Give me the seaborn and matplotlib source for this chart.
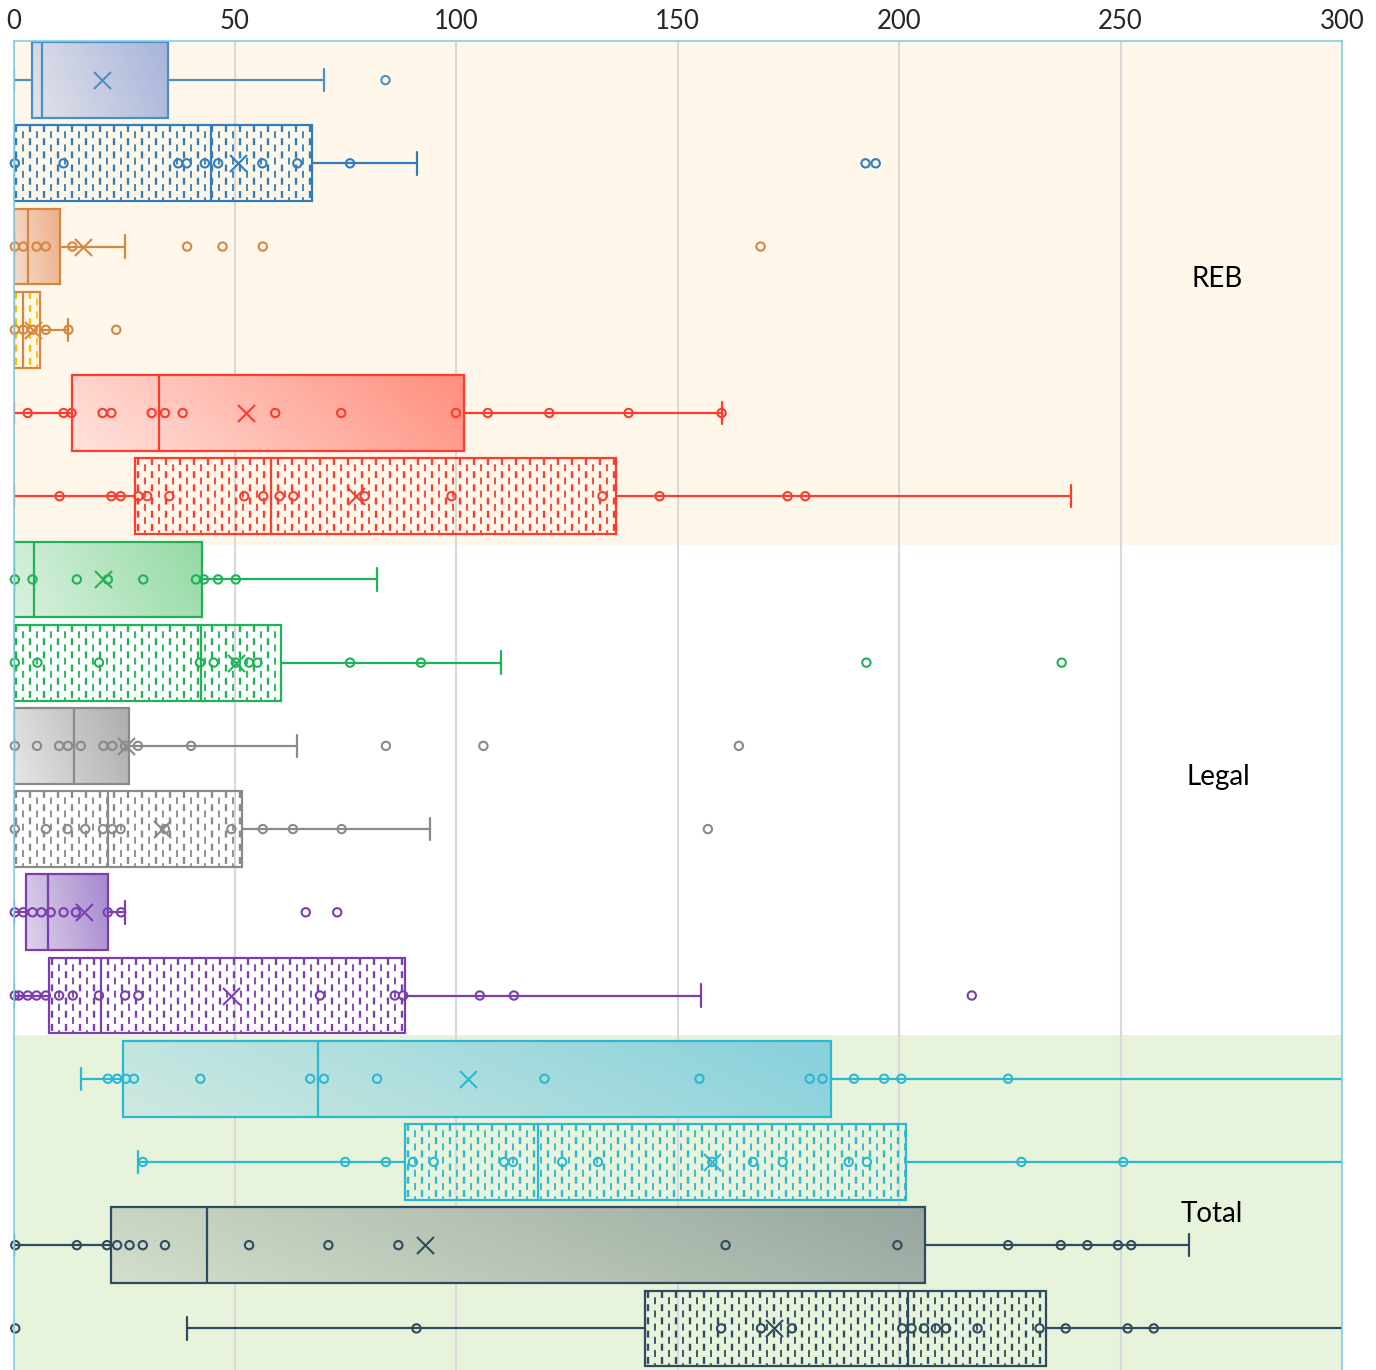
import numpy as np
import matplotlib
matplotlib.use("Agg")
import matplotlib.pyplot as plt
import seaborn as sns
from matplotlib.colors import LinearSegmentedColormap

# ---------------- data ----------------
groups = ["REB", "Legal", "Total"]
rows = ["REB 1a", "REB 1b", "REB 2a", "REB 2b", "REB 3a", "REB 3b",
        "Legal 1a", "Legal 1b", "Legal 2a", "Legal 2b", "Legal 3a", "Legal 3b",
        "Total 1a", "Total 1b", "Total 2a", "Total 2b"]
hatched = [False, True] * 8

q1 = [4.1, 0.0, 0.0, 0.0, 13.3, 27.5, 0.0, 0.0, 0.0, 0.0, 2.9, 8.1, 24.8, 88.5, 22.0, 142.7]
median = [6.4, 44.7, 3.3, 2.2, 32.8, 58.1, 4.7, 42.3, 13.7, 21.4, 7.9, 19.7, 68.7, 118.4, 43.7, 201.9]
q3 = [34.8, 67.3, 10.4, 6.0, 101.8, 136.1, 42.6, 60.5, 26.0, 51.7, 21.4, 88.4, 184.5, 201.6, 205.9, 233.2]
whisker_low = [0.0, 0.0, 0.0, 0.0, 0.0, 0.0, 0.0, 0.0, 0.0, 0.0, 0.0, 0.0, 15.2, 28.2, 0.0, 39.2]
whisker_high = [70.1, 91.2, 25.2, 12.4, 159.9, 238.7, 82.1, 110.0, 64.1, 94.1, 25.2, 155.3, 315.0, 320.0, 265.4, 325.0]
means = [19.9, 50.8, 15.8, 4.5, 52.5, 77.3, 20.3, 50.2, 25.5, 33.5, 15.9, 49.1, 102.6, 157.8, 92.9, 171.8]

points = [
    [84.0],
    [0.3, 11.3, 37.2, 39.1, 43.2, 46.2, 56.2, 64.1, 76.0, 192.4, 194.7],
    [0.3, 2.2, 5.2, 7.3, 13.3, 39.2, 47.2, 56.3, 168.7],
    [0.3, 2.2, 4.3, 7.3, 12.4, 23.2],
    [3.2, 11.3, 13.1, 20.1, 22.1, 31.2, 34.2, 38.2, 59.1, 74.0, 99.9, 107.1, 121.0, 138.9, 159.9],
    [10.4, 22.1, 24.2, 28.2, 30.2, 35.2, 52.1, 56.4, 60.1, 63.2, 79.3, 98.9, 133.0, 145.9, 174.8, 178.8],
    [0.3, 4.3, 14.3, 21.3, 29.3, 41.2, 43.0, 46.2, 50.2],
    [0.3, 5.4, 19.3, 42.1, 45.2, 50.2, 53.2, 55.1, 76.0, 92.0, 192.6, 236.7],
    [0.3, 5.3, 10.3, 12.3, 15.2, 20.3, 22.3, 25.2, 28.1, 40.1, 84.1, 106.1, 163.8],
    [0.3, 7.3, 12.2, 16.2, 20.2, 22.3, 24.2, 34.2, 49.2, 56.3, 63.1, 74.1, 156.8],
    [0.3, 2.2, 4.3, 6.3, 8.4, 11.3, 14.1, 21.3, 24.3, 66.0, 73.1],
    [0.3, 1.2, 3.2, 5.2, 7.3, 10.3, 13.4, 19.3, 25.2, 28.2, 69.2, 86.1, 88.0, 105.3, 113.0, 216.4],
    [21.3, 23.4, 25.4, 27.2, 42.2, 67.0, 70.1, 82.1, 119.9, 154.9, 179.8, 182.7, 189.8, 196.6, 200.5, 224.6],
    [29.2, 74.9, 84.1, 90.2, 94.9, 110.8, 112.8, 123.9, 132.0, 157.8, 167.0, 173.7, 188.6, 192.7, 227.6, 250.6],
    [0.4, 14.3, 21.1, 23.4, 26.2, 29.2, 34.2, 53.2, 71.1, 86.9, 160.8, 199.6, 224.6, 236.5, 242.5, 249.4, 252.4],
    [0.4, 91.0, 159.8, 168.8, 175.8, 200.7, 202.8, 205.6, 208.3, 210.6, 217.7, 231.7, 237.6, 251.6, 257.5],
]

x_ticks = [0, 50, 100, 150, 200, 250, 300]

# ---------------- styles ----------------
edge_colors = ["#4a8fc6", "#2f7dbd", "#d7863f", "#d7863f", "#ff3b30", "#ff3b30",
               "#20b356", "#20b356", "#8a8a8a", "#8a8a8a", "#7a3eb0", "#7a3eb0",
               "#2bb8d0", "#2bb8d0", "#2e4b5f", "#2e4b5f"]
hatch_colors = {1: "#2f7dbd", 3: "#f5c400", 5: "#ff3b30", 7: "#20b356", 9: "#8a8a8a",
                11: "#7a3eb0", 13: "#2bb8d0", 15: "#2e4b5f"}
grad_colors = {0: ("#e2e2e8", "#a7b4db"), 2: ("#f4dccc", "#edae88"), 4: ("#ffe3dc", "#ff8e7e"),
               6: ("#dcf1e0", "#92daa4"), 8: ("#e6e6e6", "#adadad"), 10: ("#ded4ea", "#a687cf"),
               12: ("#cfe9e0", "#86d0dc"), 14: ("#d3dfca", "#97a69f")}
band_colors = {"REB": "#fff8ea", "Legal": "#ffffff", "Total": "#e8f3dc"}

plt.rcParams["lines.scale_dashes"] = False
sns.set_style("white")
plt.rcParams["font.family"] = ["Lato", "DejaVu Sans"]

W, H = 1376, 1370
fig = plt.figure(figsize=(W / 100, H / 100), dpi=100)
ax = fig.add_axes([13.5 / W, 0.0, 1328.5 / W, (H - 41) / H])

bw = 0.91
# background bands
ax.axhspan(-0.6, 5.59, color=band_colors["REB"], zorder=0, lw=0)
ax.axhspan(5.59, 11.48, color=band_colors["Legal"], zorder=0, lw=0)
ax.axhspan(11.48, 16.0, color=band_colors["Total"], zorder=0, lw=0)

stats = []
for i in range(len(rows)):
    stats.append(dict(med=median[i], q1=q1[i], q3=q3[i], whislo=whisker_low[i],
                      whishi=whisker_high[i], mean=means[i], fliers=[], label=rows[i]))
bp = ax.bxp(stats, positions=list(range(len(rows))), widths=bw, capwidths=0.27,
            orientation="horizontal", patch_artist=True, showfliers=False,
            showmeans=False, manage_ticks=False)

for i in range(len(rows)):
    c = edge_colors[i]
    box = bp["boxes"][i]
    box.set_facecolor("none")
    box.set_edgecolor(c)
    box.set_linewidth(1.6)
    box.set_zorder(3)
    for art in (bp["whiskers"][2 * i], bp["whiskers"][2 * i + 1],
                bp["caps"][2 * i], bp["caps"][2 * i + 1]):
        art.set_color(c)
        art.set_linewidth(1.6)
        art.set_zorder(3)
    bp["medians"][i].set_color(c)
    bp["medians"][i].set_linewidth(1.6)
    bp["medians"][i].set_zorder(3)

    top, bot = i - bw / 2, i + bw / 2
    if not hatched[i]:
        c0, c1 = grad_colors[i]
        cmap = LinearSegmentedColormap.from_list(f"g{i}", [c0, c1])
        gx = np.linspace(0, 1, 256)
        gy = np.linspace(0, 1, 64)
        G = 0.82 * gx[None, :] + 0.18 * (1 - gy[:, None])
        im = ax.imshow(G, cmap=cmap, vmin=0, vmax=1, aspect="auto", origin="upper",
                       extent=(q1[i], q3[i], bot, top), zorder=2, interpolation="bilinear")
        im.set_clip_path(box)
    else:
        hc = hatch_colors[i]
        xs = np.arange(q1[i] + 0.6, q3[i], 1.58)
        for k, off, lw in ((0, 0.0, 1.7), (1, 5.0, 1.3)):
            sel = xs[k::2]
            if len(sel) == 0:
                continue
            lc = ax.vlines(sel, top, bot, colors=hc, linewidth=lw,
                           linestyles=[(off, (5.0, 4.5))], zorder=2)
            lc.set_clip_path(box)

# points (inner points and outliers)
for i in range(len(rows)):
    sns.scatterplot(x=points[i], y=[i] * len(points[i]), ax=ax, marker="o", s=36,
                    facecolor="none", edgecolor=edge_colors[i], linewidth=1.5,
                    zorder=5, legend=False, clip_on=False)
    sns.scatterplot(x=[means[i]], y=[i], ax=ax, marker="x", s=150,
                    color=edge_colors[i], edgecolor=edge_colors[i], linewidth=1.5,
                    zorder=6, legend=False, clip_on=False)

# group labels
ax.text(271.7, 2.39, "REB", ha="center", va="center", fontsize=20, color="black")
ax.text(272.0, 8.38, "Legal", ha="center", va="center", fontsize=20, color="black")
ax.text(270.5, 13.62, "Total", ha="center", va="center", fontsize=20, color="black")

ax.set_xlim(0, 300)
ax.set_ylim(15.5, -0.47)
ax.set_xticks(x_ticks)
ax.set_xticklabels([str(t) for t in x_ticks])
ax.set_yticks([])
ax.set_xlabel("")
ax.set_ylabel("")
ax.xaxis.tick_top()
ax.tick_params(axis="x", top=True, bottom=False, labeltop=True, labelbottom=False,
               length=0, pad=5, labelsize=18.5)
ax.grid(axis="x", color="#d9d9d9", linewidth=1.5, zorder=0.5)
ax.set_axisbelow(True)
for name, sp in ax.spines.items():
    sp.set_color("#7fcfe9")
    sp.set_linewidth(1.2)
    sp.set_zorder(7)
ax.spines["bottom"].set_visible(False)

fig.savefig("out.png", dpi=100)
